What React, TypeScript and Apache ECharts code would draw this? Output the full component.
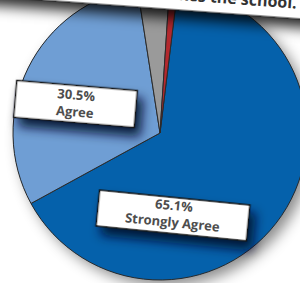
import React, { useEffect, useRef } from "react";
import * as echarts from "echarts";

const categories = ["Strongly Agree", "Agree", "Disagree", "Strongly Disagree"];
const values = [65.1, 30.5, 3.5, 0.9];
const sliceColors = ["#0561ab", "#6f9ed4", "#9a9a9a", "#b3282d"];
const titleText = "My child likes the school.";

const FONT = "'Open Sans', 'Noto Sans', sans-serif";
const deg = (d: number) => (d * Math.PI) / 180;

function labelBox(
  cx: number,
  cy: number,
  w: number,
  h: number,
  rotDeg: number,
  text: string,
  textDy: number
) {
  return {
    type: "group",
    x: cx,
    y: cy,
    rotation: deg(-rotDeg),
    z: 100,
    children: [
      {
        type: "rect",
        z: 100,
        shape: { x: -w / 2, y: -h / 2, width: w, height: h },
        style: {
          fill: "#ffffff",
          stroke: "#151515",
          lineWidth: 1.5,
          shadowBlur: 11,
          shadowOffsetX: 6,
          shadowOffsetY: 8,
          shadowColor: "rgba(0,15,45,0.9)",
        },
      },
      {
        type: "text",
        z: 101,
        x: 0,
        y: textDy,
        style: {
          text,
          fontSize: 13,
          fontWeight: "bold",
          fontFamily: FONT,
          lineHeight: 17,
          fill: "#4d4d4d",
          align: "center",
          verticalAlign: "middle",
        },
      },
    ],
  };
}

export default function App() {
  const ref = useRef<HTMLDivElement>(null);

  useEffect(() => {
    if (!ref.current) return;
    const chart = echarts.init(ref.current, null, { renderer: "svg" });

    const data = categories.map((name, i) => ({
      name,
      value: values[i],
      itemStyle: { color: sliceColors[i] },
    }));

    chart.setOption({
      animation: false,
      backgroundColor: "#ffffff",
      series: [
        {
          type: "pie",
          silent: true,
          z: 1,
          center: [160, 133],
          radius: 147,
          label: { show: false },
          labelLine: { show: false },
          emphasis: { disabled: true },
          data: [
            {
              value: 1,
              name: "shadow",
              itemStyle: {
                color: "#0561ab",
                shadowBlur: 14,
                shadowOffsetX: 6,
                shadowOffsetY: 6,
                shadowColor: "rgba(0,0,0,0.45)",
              },
            },
          ],
        },
        {
          type: "pie",
          silent: true,
          z: 2,
          center: [160, 133],
          radius: 147,
          startAngle: 83,
          clockwise: true,
          label: { show: false },
          labelLine: { show: false },
          emphasis: { disabled: true },
          itemStyle: { borderColor: "#2b2b2b", borderWidth: 1 },
          data,
        },
      ],
      graphic: [
        {
          type: "group",
          x: 165,
          y: 9,
          rotation: deg(-4.2),
          z: 100,
          children: [
            {
              type: "rect",
              z: 100,
              shape: { x: -230, y: -90, width: 460, height: 90 },
              style: {
                fill: "#ffffff",
                stroke: "#1a1a1a",
                lineWidth: 1,
                shadowBlur: 14,
                shadowOffsetX: 2,
                shadowOffsetY: 8,
                shadowColor: "rgba(0,0,0,0.85)",
              },
            },
            {
              type: "text",
              z: 101,
              x: 131,
              y: -8,
              style: {
                text: titleText,
                fontSize: 16,
                fontWeight: "bold",
                fontFamily: FONT,
                fill: "#333333",
                align: "right",
                verticalAlign: "bottom",
              },
            },
          ],
        },
        labelBox(75.5, 104, 121, 37, 4.8, `${values[1]}%\n${categories[1]}`, -1),
        labelBox(173, 215.5, 151, 36, 5.7, `${values[0]}%\n${categories[0]}`, -2),
      ],
    });

    return () => chart.dispose();
  }, []);

  return (
    <div
      ref={ref}
      style={{ position: "fixed", left: 0, top: 0, width: 300, height: 283 }}
    />
  );
}
